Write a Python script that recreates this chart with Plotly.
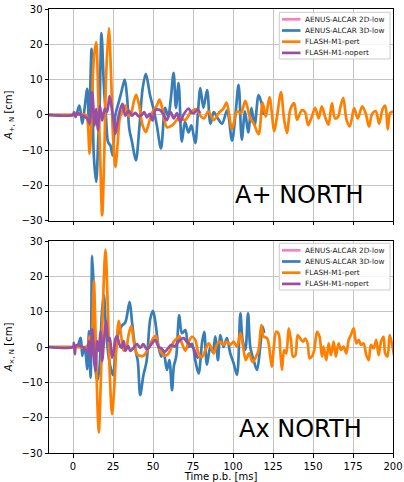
import plotly.graph_objects as go

# ---- A+ (north) amplitudes, time in ms after bounce, amplitude in cm ----
plus_3d_t = [-15, 0, 2, 4, 5.8, 7.2, 8.9, 10, 11.6, 13, 14.5, 15.7, 16.6, 17.8, 19.3, 20.7, 21.9, 23.4,
             24.8, 26.5, 28.6, 30.2, 32.3, 33.7, 35.2, 36.9, 39.3, 41.4, 43.5, 45.5, 48.2, 50.3, 52.4,
             55, 57.6, 59.5, 61, 62.9, 64.3, 66, 68, 70, 72.2, 74, 76.4, 78, 79.6, 81.5, 83.8, 85.9,
             88, 90.5, 93.2, 96.3, 99.4, 101.5, 103.5, 105.5, 107.5, 109.5, 111.5, 113.5, 116, 118, 119]
plus_3d_v = [0, 0, 0.3, 2.6, -2.5, 1.7, 7.4, -3, 18.7, -11.5, -19, -7.7, 1.7, 23.2, 8.3, -1.1, -7.7, -8.7,
             -11.5, 0, 3.6, 6.4, 10, 5.5, -4, -7.7, -12.9, -4, 7.4, 11.6, 5.5, 1.7, -3,
             -9.5, 2, -0.5, 4, 11.9, 2, 9, -7.6, -2, -5, -3, -8, 0, 7.6, 2, 7, -2.5,
             0.8, -1, -2.5, 1.3, -7.3, 0, 8.5, -7, 1, -5, 2, -3, 5.6, 3, 0]

plus_pert_t = [-15, 0, 7.9, 8.9, 10.4, 12, 13, 14.5, 15.7, 17, 18.2, 19.5, 20.7, 22.4, 23.8, 25, 26.5,
               28, 29.2, 30.6, 32.7, 34.4, 36, 37.9, 39.5, 41.4, 43.5, 45.5, 47.6, 49.7, 52.4, 54, 56,
               58.7, 62, 66.5, 70, 74, 77.3, 80, 82, 84.5, 88, 91, 94, 96, 99.4, 102.5, 105, 107.7,
               110.8, 113, 116, 118.5, 120.5, 122.8, 125.8, 127.5, 130, 132, 133.8, 135.8, 138.3, 140,
               143, 145, 147, 149, 151.4, 153.5, 155.5, 157.5, 159.7, 161.8, 163.8, 165.8, 167, 168.9,
               171, 173, 175.7, 178, 180.8, 183, 185, 187, 189.3, 191.3, 193.5, 195.2, 196.7, 198.2, 200]
plus_pert_v = [0, 0, 0, -1, -11, 5, 15.8, 20.6, 6.4, -12, -28.5, -12, 11, 24.6, 11, -6, -14.8,
               -7.5, -1, 0.8, 2.6, -0.2, 0, 3.6, 5.7, 2.6, -3, -4.9, -2, 0.8, 2.6, 4.3, 1.5,
               -3.5, -3, -0.8, -1.5, 1, 1.6, -0.5, -1, 1, -1.5, 0.5, 1.8, 3.5, -4, 1, 0.5, 4,
               -1, -2.5, -5.5, 3.5, -0.5, 5, -4.6, -0.5, 6.4, -1.5, -5.2, 1.5, 3.3, -1.4,
               1.3, 0.8, -2.9, -0.8, 2, -1, 2.4, -0.5, -2.8, 3.3, -1, -0.5, 2, 4.8,
               -1.5, -3.3, 1.9, -1, 2.4, 0.3, -3.3, 0.3, 1, -2.5, 1.6, 2.6, -4.1, 0.5, 0.9]

plus_nopert_t = [-15, 0, 0.6, 1.6, 2.7, 4.8, 6.9, 8.9, 10.4, 12, 13.5, 14.5, 15.5, 16.8, 18.2, 19.9,
                 21.3, 22.8, 24, 25.5, 26.5, 28.2, 29.6, 31, 32.7, 34.8, 36.9, 38.9, 41, 43, 44.5,
                 46.2, 48, 49.7, 51.5, 54.6, 56.7, 58.6, 61, 63, 65, 67, 69, 72.2, 74, 75.5, 77.8, 79.5]
plus_nopert_v = [0, 0, 0.8, -0.6, 0.6, 0, -0.4, -1, -2.5, 6.4, -3, 1.7, -4.4, 2.6, -1.6, 1.7,
                 0.8, 5.3, 2.6, -2, -5.4, -1.1, 1.7, 3.1, -0.2, 1.2, -0.2, 0.6, -0.4, 0, 0.8,
                 -0.7, 0.3, -1.6, 1.4, 1.3, 0, -1.5, 0.8, -1, 0.5, -2, 0, 1.8, 0.6, 0.5, 1.5, 0.5]

# ---- Ax (north) amplitudes ----
cross_3d_t = [-15, 0, 2.7, 4.8, 5.8, 6.8, 7.9, 8.9, 10, 11, 12, 13, 14, 15.1, 16.5, 18.1, 19.3, 20.5,
              22.5, 25, 26.5, 28.5, 30.5, 32.7, 35.4, 36.9, 38.9, 40.5, 42, 44, 46, 48.3, 50, 51.5,
              53.5, 55.2, 56.6, 58.7, 60.2, 61.9, 63, 64.5, 66.4, 68.1, 70.2, 72.3, 74.4, 76.4, 78.5,
              80.6, 82, 83.7, 85.8, 87.3, 89, 90.6, 92, 94.1, 96.2, 98.3, 100.4, 102.5, 104.6, 106,
              107.7, 109.4, 110.8, 112.9, 115, 117, 118.5, 119.5]
cross_3d_v = [0, 0, 0.2, 2.6, -2.5, 0, -1.8, -6.3, 4.5, -8.7, 25.8, 15.8, -5.8, -9.6, -6, 10, 14.7, 6,
              -3.5, -8, -2, 4, 6, 7, 12.8, 7, -0.5, -4, -13.6, -8, -4, 8, 10.2, 7,
              0, -2.7, -1.3, -6.5, -3.7, -12.2, -5.5, -2.7, 9, 3.9, 4.8, 0, 0.9, -3.7, -7.5,
              1, 4.3, -5, 0, -1.4, 3, -3.7, 3.4, 0, 2.5, -1.8, -4.6, -7.9, 9.5, 1.9,
              -0.8, 9.5, 0, -3.7, -6.5, 0, 5.8, 4]

cross_pert_t = [-15, 0, 7.7, 9.2, 10.4, 11.5, 12.2, 13, 14.2, 15, 16.1, 17.5, 18.8, 20.3, 21.7, 23,
                24.4, 25.9, 27, 28.6, 30, 31.7, 33.3, 34.8, 36.4, 37.9, 40, 42, 44, 46.2, 48.2, 50.3,
                51.8, 53.5, 56.6, 58.7, 60.8, 62.9, 65, 66.4, 68.1, 70.2, 72.3, 74.4, 76.4, 78.5,
                80.6, 82.7, 84.8, 86.5, 88, 90, 92, 94, 96.2, 98.3, 100.4, 102.5, 104.6, 106, 108,
                110, 112.3, 114.4, 116, 117.7, 119.2, 121.3, 123.3, 124.3, 125.4, 127, 128.5, 129.5,
                130.6, 132, 133.3, 134.8, 136.2, 137.5, 139, 140.4, 142, 143.7, 145.2, 146.6, 147.9,
                149.3, 150.8, 152.5, 154.1, 155.6, 156.6, 158.3, 159.8, 161.2, 162.9, 164.3, 166,
                167.5, 169.1, 170.8, 172.3, 173.7, 175.4, 177.1, 178.5, 180, 181.6, 183.3, 184.8,
                186.2, 187.9, 189.5, 191, 192.5, 194.1, 195.1, 196.6, 197.9, 199.3, 200.8]
cross_pert_v = [0, 0, 0, 0.5, 3, -1, 6, 18.7, 2, -12, -24.2, -8, 13, 27.6, 12, -8,
                -19, -10.5, -1, 7.4, 3.6, -1, -0.2, 3.6, 6, 1.7, -2.1, -2.5, -2.5, -1.2, 0.8, 2.6,
                3.2, 0, -2.3, -2.3, -0.9, 1.5, 2.5, 3.1, 1, -1, 1.5, 2.9, 2, -1.8,
                -2.9, -0.9, 1, -0.4, -1.8, 0.8, 1.5, 0.6, 1.5, 0.6, 1.5, 0.1, 3.9, 1, -3.7,
                -1.8, -4.2, -2.7, -0.8, 6.2, 2.9, 2.5, -2.7, -5.6, -0.5, 4.3, 3.8, -0.8,
                -6.5, -0.8, -1.8, 5.3, 2, -2.7, -2.3, 3.4, 2.4, 1.5, 2.4, 1, -3.2,
                -2.7, -0.8, 4.3, 2.9, -2.7, 0.1, -3.7, 1, -2.3, 1.5, -2.7, 1,
                -0.8, 0.1, -1.8, 2, 3.4, 5.3, 1, 2, 0.6, 1, -2.3, -3.7,
                0.6, -0.4, 2, -2.3, 1.5, 2.9, -1.8, -2.7, 3.4, 1, -2.7]

cross_nopert_t = [-15, 0, 0.6, 1.2, 2, 4.8, 6.9, 8.9, 10, 11, 12, 13, 14, 15.1, 16.1, 17.2, 18.2,
                  19.5, 20.7, 22, 23, 24.4, 25.5, 26.5, 27.5, 29, 30.2, 31.7, 32.8, 34.4, 35.8,
                  37.9, 40, 42, 44, 46.2, 48.2, 49.7, 51.4, 53.5, 55.2, 57.3, 59.3, 61.4, 63.5,
                  65, 67, 69.1, 71.2, 73.3, 75.4, 77.5, 78.5]
cross_nopert_v = [0, 0, 1.2, -2, 0.5, 0.3, -0.2, -1.1, 1.7, -3, 5, -3, -6.8, 1.7, -1.1, 4.5, -4,
                  2.6, 7.4, 1.7, 2.6, -3, -1.1, 2.2, 3.1, 0.8, -0.2, 1.7, -1.1, 0.3, -1.1,
                  -0.2, 0.8, -0.2, 0.8, -0.7, 0.3, 1.2, 2, 0, -0.4, -1.3, -0.4, 0.6, 0.1,
                  1, 2, 2.5, 1.5, 0.6, -0.4, -2.7, -3.2]

names = ["AENUS-ALCAR 2D-low", "AENUS-ALCAR 3D-low", "FLASH-M1-pert", "FLASH-M1-nopert"]
colors = ["#f781bf", "#377eb8", "#ff7f00", "#984ea3"]

x_ticks = [0, 25, 50, 75, 100, 125, 150, 175, 200]
y_ticks = [-30, -20, -10, 0, 10, 20, 30]

FONT = "DejaVu Sans"
W, H = 404, 482
ML, MR, MT, MB = 49, 11, 9, 29
PW, PH = W - ML - MR, H - MT - MB


def px_x(p):
    """pixel column -> paper x"""
    return (p - ML) / PW


def px_y(p):
    """pixel row -> paper y"""
    return (H - MB - p) / PH


fig = go.Figure()

panels = [
    ("x", "y", [(plus_3d_t, plus_3d_v), (plus_pert_t, plus_pert_v), (plus_nopert_t, plus_nopert_v)]),
    ("x2", "y2", [(cross_3d_t, cross_3d_v), (cross_pert_t, cross_pert_v), (cross_nopert_t, cross_nopert_v)]),
]

for xa, ya, series in panels:
    for (t, v), nm, col in zip(series, names[1:], colors[1:]):
        fig.add_trace(go.Scatter(x=t, y=v, mode="lines", name=nm, xaxis=xa, yaxis=ya, showlegend=False,
                                 line=dict(color=col, width=2.7, shape="spline", smoothing=0.9)))

axis_common = dict(range=[-15, 200], showgrid=True, gridcolor="#c4c4c4", gridwidth=1,
                   showline=True, linecolor="black", linewidth=1, mirror=True, automargin=False,
                   ticks="outside", ticklen=3.5, tickcolor="black", zeroline=False,
                   tickvals=x_ticks, tickfont=dict(family=FONT, size=10, color="black"))
yaxis_common = dict(range=[-30, 30], showgrid=True, gridcolor="#c4c4c4", gridwidth=1,
                    showline=True, linecolor="black", linewidth=1, mirror=True, automargin=False,
                    ticks="outside", ticklen=3.5, tickcolor="black", zeroline=False,
                    tickvals=y_ticks, tickfont=dict(family=FONT, size=10, color="black"))

top_dom = [px_y(220.7), 1]
bot_dom = [0, px_y(241)]

fig.update_layout(
    width=W, height=H,
    margin=dict(l=ML, r=MR, t=MT, b=MB),
    plot_bgcolor="white", paper_bgcolor="white",
    font=dict(family=FONT, size=10, color="black"),
    showlegend=False,
    xaxis=dict(axis_common, domain=[0, 1], anchor="y", showticklabels=False),
    yaxis=dict(yaxis_common, domain=top_dom, anchor="x",
               title=dict(text="<i>A</i><sub>+, N</sub> [cm]", font=dict(size=10), standoff=6)),
    xaxis2=dict(axis_common, domain=[0, 1], anchor="y2",
                title=dict(text="Time p.b. [ms]", font=dict(size=10), standoff=3)),
    yaxis2=dict(yaxis_common, domain=bot_dom, anchor="x2",
                title=dict(text="<i>A</i><sub>×, N</sub> [cm]", font=dict(size=10), standoff=6)),
)

# legend boxes drawn in each panel's upper-right corner
shapes = []
annotations = []
for top in (12.3, 243.3):
    shapes.append(dict(type="rect", xref="paper", yref="paper",
                       x0=px_x(279.3), x1=px_x(390), y0=px_y(top + 46.7), y1=px_y(top),
                       line=dict(color="#cccccc", width=1), fillcolor="rgba(255,255,255,0.85)",
                       layer="above"))
    for i, (nm, col) in enumerate(zip(names, colors)):
        row = top + 7 + i * 11.2
        shapes.append(dict(type="line", xref="paper", yref="paper",
                           x0=px_x(282), x1=px_x(300.5), y0=px_y(row), y1=px_y(row),
                           line=dict(color=col, width=2.7), layer="above"))
        annotations.append(dict(x=px_x(303), y=px_y(row), xref="paper", yref="paper",
                                text=nm, showarrow=False, xanchor="left", yanchor="middle",
                                font=dict(family=FONT, size=7.3, color="#222222")))

annotations.append(dict(x=141.5, y=-22.6, xref="x", yref="y", text="A+ NORTH", showarrow=False,
                        font=dict(family=FONT, size=24, color="black")))
annotations.append(dict(x=142, y=-23.2, xref="x2", yref="y2", text="Ax NORTH", showarrow=False,
                        font=dict(family=FONT, size=24, color="black")))

fig.update_layout(shapes=shapes, annotations=annotations)

fig.write_html("out.html")
